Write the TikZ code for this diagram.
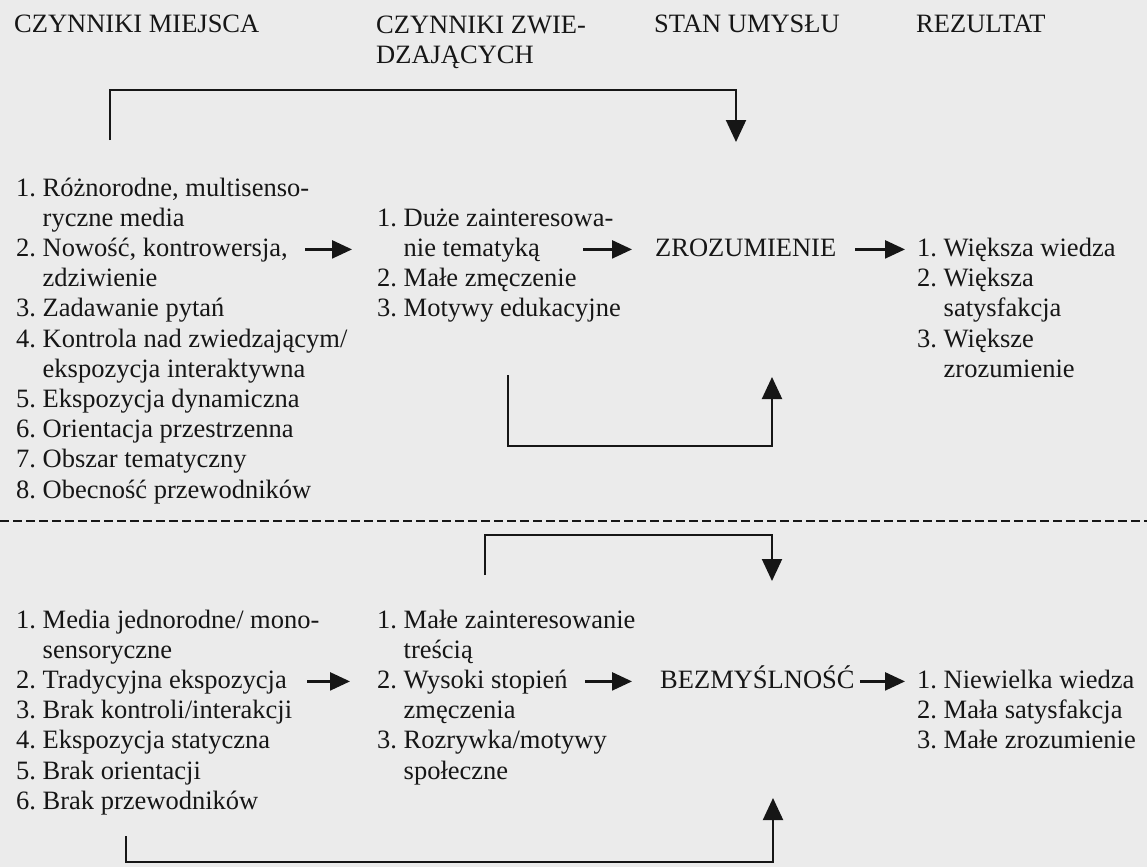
\documentclass[tikz,border=0pt]{standalone}
\usepackage{fontspec}
\setmainfont{Liberation Serif}
\usetikzlibrary{arrows.meta}
\definecolor{ink}{HTML}{161616}
\definecolor{paper}{HTML}{EBEBEB}
\tikzset{
  txt/.style={anchor=base west, inner sep=0pt, align=left, text=ink,
    font=\fontsize{26.5}{30.2}\selectfont},
  flow/.style={line width=2.4pt, draw=ink, -{Triangle[length=20pt,width=18pt]}},
  brk/.style={line width=2pt, draw=ink},
  brkarrow/.style={brk, -{Triangle[length=22pt,width=20pt]}},
  sep/.style={line width=1.8pt, draw=ink, dash pattern=on 9pt off 4pt},
}
\begin{document}
\begin{tikzpicture}[x=1pt,y=-1pt]
\fill[paper] (0,0) rectangle (1147,867);
\useasboundingbox (0,0) rectangle (1147,867);

% headers (multi-line nodes: base = last line)
\node[txt] (h1) at (14,33) {CZYNNIKI MIEJSCA};
\node[txt] (h2) at (376,63.2) {CZYNNIKI ZWIE-\\DZAJĄCYCH};
\node[txt] (h3) at (654,33) {STAN UMYSŁU};
\node[txt] (h4) at (916,33) {REZULTAT};

% upper part
\node[txt] (pl) at (16,498) {1.~Różnorodne, multisenso-\\\hphantom{1.~}ryczne media\\2.~Nowość, kontrowersja,\\\hphantom{2.~}zdziwienie\\3.~Zadawanie pytań\\4.~Kontrola nad zwiedzającym/\\\hphantom{4.~}ekspozycja interaktywna\\5.~Ekspozycja dynamiczna\\6.~Orientacja przestrzenna\\7.~Obszar tematyczny\\8.~Obecność przewodników};
\node[txt] (pz) at (377,316.8) {1.~Duże zainteresowa-\\\hphantom{1.~}nie tematyką\\2.~Małe zmęczenie\\3.~Motywy edukacyjne};
\node[txt] (pu) at (655,256.4) {ZROZUMIENIE};
\node[txt] (pr) at (917,377.2) {1.~Większa wiedza\\2.~Większa\\\hphantom{2.~}satysfakcja\\3.~Większe\\\hphantom{3.~}zrozumienie};

\coordinate (a1s) at (305,249.4); \coordinate (a1e) at (352,249.4);
\coordinate (a2s) at (583,249.4); \coordinate (a2e) at (632,249.4);
\coordinate (a3s) at (855,249.4); \coordinate (a3e) at (905,249.4);
\draw[flow] (a1s) -- (a1e);
\draw[flow] (a2s) -- (a2e);
\draw[flow] (a3s) -- (a3e);

\coordinate (t1) at (110,140); \coordinate (t2) at (110,90);
\coordinate (t3) at (736,90);  \coordinate (t4) at (736,142);
\draw[brkarrow] (t1) -- (t2) -- (t3) -- (t4);

\coordinate (u1) at (508,375); \coordinate (u2) at (508,446);
\coordinate (u3) at (772,446); \coordinate (u4) at (772,377);
\draw[brkarrow] (u1) -- (u2) -- (u3) -- (u4);

% separator
\coordinate (d1) at (0,521); \coordinate (d2) at (1147,521);
\draw[sep] (d1) -- (d2);

% lower part
\coordinate (l1) at (485,575); \coordinate (l2) at (485,535);
\coordinate (l3) at (772,535); \coordinate (l4) at (772,581);
\draw[brkarrow] (l1) -- (l2) -- (l3) -- (l4);

\node[txt] (nl) at (16,809.2) {1.~Media jednorodne/ mono-\\\hphantom{1.~}sensoryczne\\2.~Tradycyjna ekspozycja\\3.~Brak kontroli/interakcji\\4.~Ekspozycja statyczna\\5.~Brak orientacji\\6.~Brak przewodników};
\node[txt] (nz) at (377,779) {1.~Małe zainteresowanie\\\hphantom{1.~}treścią\\2.~Wysoki stopień\\\hphantom{2.~}zmęczenia\\3.~Rozrywka/motywy\\\hphantom{3.~}społeczne};
\node[txt] (nu) at (660,688.4) {BEZMYŚLNOŚĆ};
\node[txt] (nr) at (917,748.8) {1.~Niewielka wiedza\\2.~Mała satysfakcja\\3.~Małe zrozumienie};

\coordinate (b1s) at (307,681.4); \coordinate (b1e) at (350,681.4);
\coordinate (b2s) at (585,681.4); \coordinate (b2e) at (632,681.4);
\coordinate (b3s) at (860,681.4); \coordinate (b3e) at (905,681.4);
\draw[flow] (b1s) -- (b1e);
\draw[flow] (b2s) -- (b2e);
\draw[flow] (b3s) -- (b3e);

\coordinate (g1) at (126,836); \coordinate (g2) at (126,862);
\coordinate (g3) at (773,862); \coordinate (g4) at (773,798);
\draw[brkarrow] (g1) -- (g2) -- (g3) -- (g4);
\end{tikzpicture}
\end{document}
